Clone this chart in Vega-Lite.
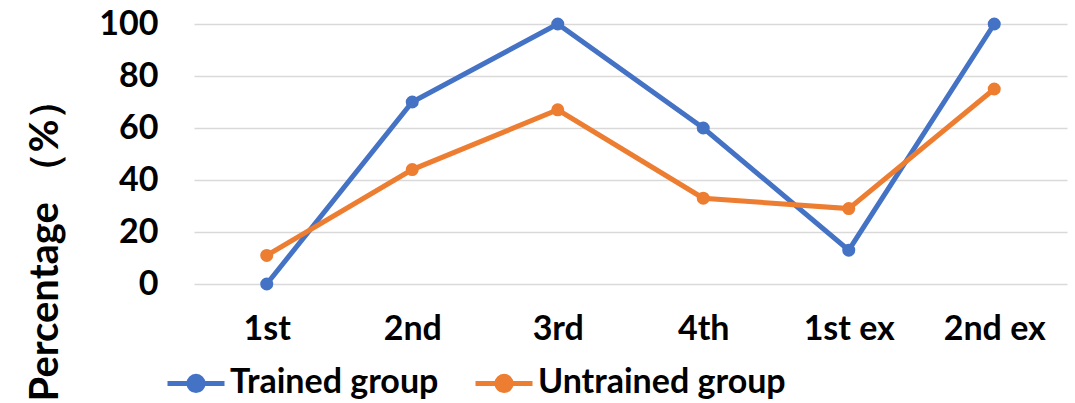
{
  "$schema": "https://vega.github.io/schema/vega-lite/v6.json",
  "width": 873,
  "height": 260,
  "autosize": {"type": "none"},
  "padding": {"left": 194, "top": 24, "right": 8, "bottom": 119},
  "background": "white",
  "config": {
    "view": {"stroke": null},
    "font": "Lato",
    "axis": {"labelFont": "Lato", "titleFont": "Lato"},
    "legend": {"labelFont": "Lato"}
  },
  "data": {
    "values": [
      {"session": "1st", "group": "Trained group", "pct": 0},
      {"session": "2nd", "group": "Trained group", "pct": 70},
      {"session": "3rd", "group": "Trained group", "pct": 100},
      {"session": "4th", "group": "Trained group", "pct": 60},
      {"session": "1st ex", "group": "Trained group", "pct": 13},
      {"session": "2nd ex", "group": "Trained group", "pct": 100},
      {"session": "1st", "group": "Untrained group", "pct": 11},
      {"session": "2nd", "group": "Untrained group", "pct": 44},
      {"session": "3rd", "group": "Untrained group", "pct": 67},
      {"session": "4th", "group": "Untrained group", "pct": 33},
      {"session": "1st ex", "group": "Untrained group", "pct": 29},
      {"session": "2nd ex", "group": "Untrained group", "pct": 75}
    ]
  },
  "encoding": {
    "x": {
      "field": "session",
      "type": "nominal",
      "sort": ["1st", "2nd", "3rd", "4th", "1st ex", "2nd ex"],
      "scale": {"type": "point", "padding": 0.5},
      "axis": {
        "title": null,
        "labelAngle": 0,
        "labelFontSize": 34,
        "labelFontWeight": "bold",
        "labelColor": "#000000",
        "labelPadding": 28,
        "ticks": false,
        "domain": false,
        "grid": false
      }
    },
    "y": {
      "field": "pct",
      "type": "quantitative",
      "scale": {"domain": [0, 100], "nice": false},
      "axis": {
        "title": "Percentage （%）",
        "titleFontSize": 40,
        "titleFontWeight": "bold",
        "titleColor": "#000000",
        "titleAngle": -90,
        "titleAlign": "center",
        "titleBaseline": "middle",
        "titleX": -149,
        "titleY": 216,
        "values": [0, 20, 40, 60, 80, 100],
        "labelFontSize": 34,
        "labelFontWeight": "bold",
        "labelColor": "#000000",
        "labelPadding": 36,
        "ticks": false,
        "domain": false,
        "grid": true,
        "gridColor": "#D9D9D9",
        "gridWidth": 1.5
      }
    },
    "color": {
      "field": "group",
      "type": "nominal",
      "scale": {"domain": ["Trained group", "Untrained group"], "range": ["#4472C4", "#ED7D31"]},
      "legend": {
        "title": null,
        "orient": "none",
        "direction": "horizontal",
        "legendX": -29,
        "legendY": 328,
        "labelFontSize": 34,
        "labelFontWeight": "bold",
        "labelColor": "#000000",
        "labelLimit": 500,
        "labelOffset": 3,
        "columnPadding": 26,
        "symbolType": "M -1 0 L 1 0 M -0.25 0 A 0.25 0.25 0 1 1 0.25 0 A 0.25 0.25 0 1 1 -0.25 0 Z",
        "symbolSize": 3249,
        "symbolStrokeWidth": 5,
        "symbolOpacity": 1
      }
    }
  },
  "layer": [
    {"mark": {"type": "line", "strokeWidth": 5}},
    {"mark": {"type": "circle", "size": 170, "opacity": 1}}
  ]
}
